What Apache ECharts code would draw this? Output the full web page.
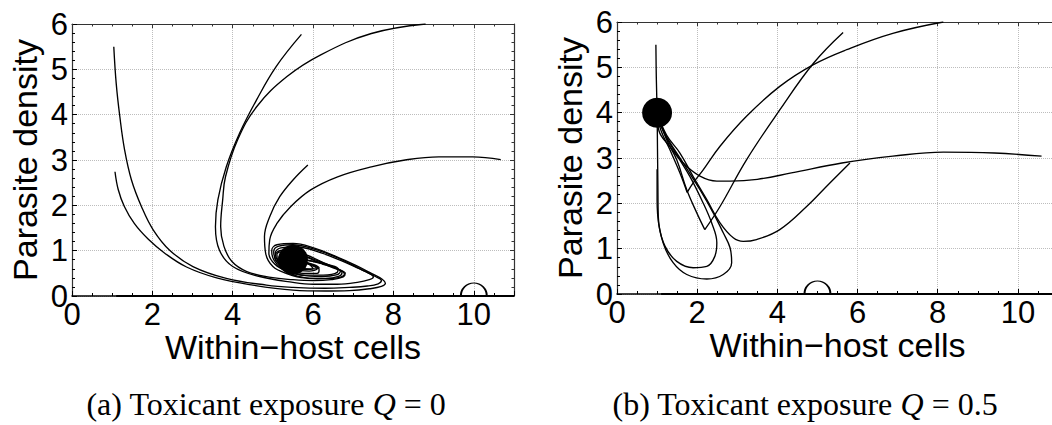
<!DOCTYPE html>
<html>
<head>
<meta charset="utf-8">
<script src="https://cdn.jsdelivr.net/npm/echarts@6/dist/echarts.min.js"></script>
<style>
  html, body { margin: 0; padding: 0; background: #fff; }
  #chart { width: 1052px; height: 425px; }
</style>
</head>
<body>
<div id="chart"></div>
<script>
// ---- data: trajectories (x = within-host cells, y = parasite density)
var xTitle = 'Within\u2212host cells';
var yTitle = 'Parasite density';
var captionLeft = '(a) Toxicant exposure {q|Q} = 0';
var captionRight = '(b) Toxicant exposure {q|Q} = 0.5';

// panel (a), Q = 0
var aAxisRun = [[1.1, 0], [11, 0]];
var aFromTopLeft = [[1.04, 5.5], [1.1, 4.69], [1.19, 3.96], [1.31, 3.22], [1.48, 2.56], [1.73, 1.97], [2.02, 1.46], [2.43, 1.01], [3.01, 0.65], [3.84, 0.39], [4.84, 0.24], [5.5, 0.19], [6.3, 0.17], [6.9, 0.19], [7.35, 0.22], [7.62, 0.27], [7.7, 0.34], [7.55, 0.43], [7.25, 0.56], [6.9, 0.72], [6.45, 0.9], [6.0, 1.04], [5.5, 1.13], [5.15, 1.1], [5.02, 0.98], [5.08, 0.78], [5.3, 0.58], [5.7, 0.46], [6.2, 0.43], [6.6, 0.47], [6.68, 0.55], [6.5, 0.64], [6.1, 0.75], [5.7, 0.8], [5.5, 0.8]];
var aFromLeftMid = [[1.07, 2.74], [1.15, 2.35], [1.3, 1.98], [1.55, 1.6], [1.9, 1.25], [2.3, 0.95], [2.85, 0.64], [3.6, 0.4], [4.5, 0.24], [5.5, 0.13], [6.3, 0.11], [6.9, 0.12], [7.4, 0.16], [7.7, 0.21], [7.8, 0.28], [7.72, 0.37], [7.45, 0.5], [7.05, 0.68], [6.55, 0.88], [6.05, 1.05], [5.5, 1.16], [5.1, 1.13], [4.97, 1.0], [5.02, 0.8], [5.22, 0.6], [5.6, 0.44], [6.1, 0.38], [6.6, 0.4], [6.78, 0.48], [6.65, 0.58], [6.25, 0.7], [5.8, 0.79], [5.5, 0.8]];
var aFromTopMid = [[5.71, 5.77], [5.08, 5.06], [4.59, 4.32], [4.17, 3.59], [3.84, 2.85], [3.63, 2.12], [3.57, 1.53], [3.67, 1.01], [4.0, 0.65], [4.67, 0.43], [5.5, 0.3], [6.0, 0.26], [6.6, 0.26], [7.1, 0.3], [7.4, 0.36], [7.5, 0.42], [7.4, 0.5], [7.1, 0.62], [6.7, 0.78], [6.2, 0.95], [5.6, 1.08], [5.2, 1.06], [5.06, 0.95], [5.12, 0.78], [5.35, 0.6], [5.75, 0.5], [6.1, 0.5], [6.15, 0.58], [5.95, 0.7], [5.6, 0.8]];
var aFromTopRight = [[8.8, 6.0], [7.45, 5.79], [6.19, 5.32], [5.35, 4.84], [4.6, 4.18], [4.12, 3.44], [3.82, 2.63], [3.75, 2.12], [3.7, 1.53], [3.78, 1.1], [3.98, 0.76], [4.35, 0.54], [4.95, 0.41], [5.5, 0.36], [6.0, 0.34], [6.45, 0.36], [6.75, 0.42], [6.8, 0.5], [6.6, 0.6], [6.2, 0.76], [5.8, 0.92], [5.4, 1.02], [5.12, 0.98], [5.05, 0.85], [5.2, 0.68], [5.5, 0.58], [5.9, 0.55], [6.1, 0.6], [5.9, 0.7], [5.6, 0.78]];
var aFromCentre = [[5.87, 2.89], [5.5, 2.56], [5.17, 2.19], [4.92, 1.75], [4.79, 1.31], [4.82, 0.94], [5.0, 0.65], [5.33, 0.5], [5.8, 0.4], [6.3, 0.39], [6.65, 0.44], [6.72, 0.52], [6.5, 0.62], [6.1, 0.76], [5.7, 0.9], [5.3, 0.98], [5.1, 0.92], [5.12, 0.78], [5.35, 0.64], [5.7, 0.58], [6.0, 0.6], [5.9, 0.7], [5.6, 0.78]];
var aFromRight = [[10.67, 3.01], [9.97, 3.07], [9.13, 3.07], [8.29, 3.0], [7.45, 2.85], [6.61, 2.63], [5.94, 2.34], [5.44, 1.97], [5.1, 1.6], [4.92, 1.24], [4.9, 0.94], [5.05, 0.7], [5.35, 0.55], [5.8, 0.46], [6.25, 0.46], [6.6, 0.52], [6.62, 0.6], [6.35, 0.7], [5.95, 0.83], [5.55, 0.93], [5.22, 0.92], [5.15, 0.8], [5.3, 0.68], [5.6, 0.62], [5.95, 0.6], [6.15, 0.62], [6.0, 0.7], [5.6, 0.78]];
var aStable = [[5.5, 0.8]];
var aUnstable = [[10, 0]];

// panel (b), Q = 0.5
var bAxisRun = [[1.1, 0], [11, 0]];
var bFromTopLeft = [[0.97, 5.5], [0.98, 4.8], [1.0, 4.0], [1.01, 3.2], [1.02, 2.4], [1.03, 1.71], [1.15, 1.13], [1.4, 0.69], [1.74, 0.43], [2.24, 0.33], [2.65, 0.43], [2.86, 0.69], [2.82, 1.02], [2.65, 1.35], [2.4, 1.79], [2.07, 2.3], [1.65, 2.89], [1.28, 3.4], [1.1, 3.7], [1.0, 4.0]];
var bFromLeftMid = [[1.0, 2.75], [1.0, 2.08], [1.05, 1.49], [1.2, 1.05], [1.49, 0.72], [1.9, 0.58], [2.24, 0.61], [2.44, 0.83], [2.49, 1.13], [2.36, 1.57], [2.11, 2.08], [1.82, 2.59], [1.49, 3.07], [1.2, 3.5], [1.0, 4.0]];
var bFromTopMidIn = [[5.64, 5.77], [4.9, 5.09], [4.06, 4.06], [3.23, 2.96], [2.57, 1.93], [2.19, 1.42]];
var bFromTopMidOut = [[2.19, 1.42], [1.99, 1.79], [1.74, 2.3], [1.49, 2.96], [1.24, 3.4], [1.0, 4.0]];
var bFromTopRightIn = [[8.14, 6.0], [6.88, 5.75], [5.73, 5.39], [4.9, 5.06], [4.06, 4.58], [3.23, 3.92], [2.57, 3.26], [2.15, 2.74], [1.9, 2.45], [1.75, 2.24]];
var bFromTopRightOut = [[1.75, 2.24], [1.57, 2.67], [1.32, 3.18], [1.1, 3.6], [1.0, 4.0]];
var bFromRight = [[10.59, 3.04], [9.41, 3.11], [8.14, 3.13], [6.88, 3.04], [5.61, 2.89], [4.35, 2.67], [3.5, 2.53], [2.83, 2.49], [2.49, 2.49], [2.07, 2.6], [1.65, 2.89], [1.31, 3.26], [1.05, 3.59], [1.0, 4.0]];
var bFromCentre = [[5.81, 2.89], [5.31, 2.45], [4.73, 1.93], [4.06, 1.42], [3.48, 1.2], [3.15, 1.16], [2.9, 1.24], [2.57, 1.57], [2.24, 2.08], [1.9, 2.59], [1.57, 3.11], [1.24, 3.5], [1.0, 4.0]];
var bStable = [[1, 4]];
var bUnstable = [[5, 0]];

var sans = 'Liberation Sans';
var serif = 'Liberation Serif';

function bottomAxis(gi) {
  return {
    gridIndex: gi, type: 'value', position: 'bottom', min: 0, max: 11, interval: 2,
    name: xTitle, nameLocation: 'middle', nameGap: 34, nameMoveOverlap: false,
    nameTextStyle: { color: '#000', fontFamily: sans, fontSize: 34 },
    axisLine: { onZero: false, lineStyle: { color: '#000', width: 1.5 } },
    axisTick: { inside: true, length: 5, lineStyle: { color: '#000', width: 1 } },
    minorTick: { show: true, splitNumber: 4, length: 3, lineStyle: { color: '#000', width: 1 } },
    axisLabel: { color: '#000', fontFamily: sans, fontSize: 31, margin: 3, showMaxLabel: false },
    splitLine: { show: true, lineStyle: { color: '#bdbdbd', type: 'dotted', width: 1 } }
  };
}
function topAxis(gi) {
  return {
    gridIndex: gi, type: 'value', position: 'top', min: 0, max: 11, interval: 2,
    axisLine: { onZero: false, lineStyle: { color: '#333', width: 1.2 } },
    axisTick: { inside: true, length: 4, lineStyle: { color: '#333', width: 1 } },
    minorTick: { show: true, splitNumber: 4, length: 2.5, lineStyle: { color: '#333', width: 1 } },
    axisLabel: { show: false },
    splitLine: { show: false }
  };
}
function leftAxis(gi) {
  return {
    gridIndex: gi, type: 'value', position: 'left', min: 0, max: 6, interval: 1,
    name: yTitle, nameLocation: 'middle', nameGap: 30, nameMoveOverlap: false,
    nameTextStyle: { color: '#000', fontFamily: sans, fontSize: 34 },
    axisLine: { onZero: false, lineStyle: { color: '#333', width: 1.2 } },
    axisTick: { inside: true, length: 5, lineStyle: { color: '#000', width: 1 } },
    minorTick: { show: true, splitNumber: 5, length: 3, lineStyle: { color: '#000', width: 1 } },
    axisLabel: { color: '#000', fontFamily: sans, fontSize: 31, margin: 4 },
    splitLine: { show: true, lineStyle: { color: '#bdbdbd', type: 'dotted', width: 1 } }
  };
}
function rightAxis(gi) {
  return {
    gridIndex: gi, type: 'value', position: 'right', min: 0, max: 6, interval: 1,
    axisLine: { onZero: false, lineStyle: { color: '#333', width: 1.2 } },
    axisTick: { inside: true, length: 4, lineStyle: { color: '#333', width: 1 } },
    minorTick: { show: true, splitNumber: 5, length: 2.5, lineStyle: { color: '#333', width: 1 } },
    axisLabel: { show: false },
    splitLine: { show: false }
  };
}

function traj(data, panel, width) {
  return {
    type: 'line', xAxisIndex: panel * 2, yAxisIndex: panel * 2,
    data: data, symbol: 'none', smooth: 0.4, silent: true,
    lineStyle: { color: '#000', width: width || 1.35 }
  };
}
function stablePoint(data, panel) {
  return {
    type: 'scatter', xAxisIndex: panel * 2, yAxisIndex: panel * 2, data: data,
    symbol: 'circle', symbolSize: 30, clip: false, silent: true, z: 5,
    itemStyle: { color: '#000', opacity: 1 }
  };
}
function unstablePoint(data, panel) {
  return {
    type: 'scatter', xAxisIndex: panel * 2, yAxisIndex: panel * 2, data: data,
    symbol: 'path://M0,20 A20,20 0 0 1 40,20', symbolSize: [26, 13], symbolOffset: [0, -6.5],
    clip: false, silent: true, z: 5,
    itemStyle: { color: 'rgba(0,0,0,0)', borderColor: '#000', borderWidth: 1.4, opacity: 1 }
  };
}

var chart = echarts.init(document.getElementById('chart'), null, { renderer: 'svg' });
chart.setOption({
  animation: false,
  backgroundColor: '#fff',
  title: [
    {
      text: captionLeft, left: 261, top: 383, textAlign: 'center',
      textStyle: { color: '#000', fontFamily: serif, fontSize: 32, fontWeight: 'normal',
        rich: { q: { fontFamily: serif, fontSize: 32, fontStyle: 'italic', color: '#000' } } }
    },
    {
      text: captionRight, left: 800, top: 383, textAlign: 'center',
      textStyle: { color: '#000', fontFamily: serif, fontSize: 32, fontWeight: 'normal',
        rich: { q: { fontFamily: serif, fontSize: 32, fontStyle: 'italic', color: '#000' } } }
    }
  ],
  grid: [
    { left: 72, top: 24, width: 442, height: 272, outerBoundsMode: 'none' },
    { left: 617, top: 22, width: 441, height: 272, outerBoundsMode: 'none' }
  ],
  xAxis: [bottomAxis(0), topAxis(0), bottomAxis(1), topAxis(1)],
  yAxis: [leftAxis(0), rightAxis(0), leftAxis(1), rightAxis(1)],
  series: [
    traj(aAxisRun, 0, 2),
    traj(aFromTopLeft, 0),
    traj(aFromLeftMid, 0),
    traj(aFromTopMid, 0),
    traj(aFromTopRight, 0),
    traj(aFromCentre, 0),
    traj(aFromRight, 0),
    stablePoint(aStable, 0),
    unstablePoint(aUnstable, 0),

    traj(bAxisRun, 1, 2),
    traj(bFromTopLeft, 1),
    traj(bFromLeftMid, 1),
    traj(bFromTopMidIn, 1),
    traj(bFromTopMidOut, 1),
    traj(bFromTopRightIn, 1),
    traj(bFromTopRightOut, 1),
    traj(bFromRight, 1),
    traj(bFromCentre, 1),
    stablePoint(bStable, 1),
    unstablePoint(bUnstable, 1)
  ]
});
window.addEventListener('resize', function() { chart.resize(); });
</script>
</body>
</html>
